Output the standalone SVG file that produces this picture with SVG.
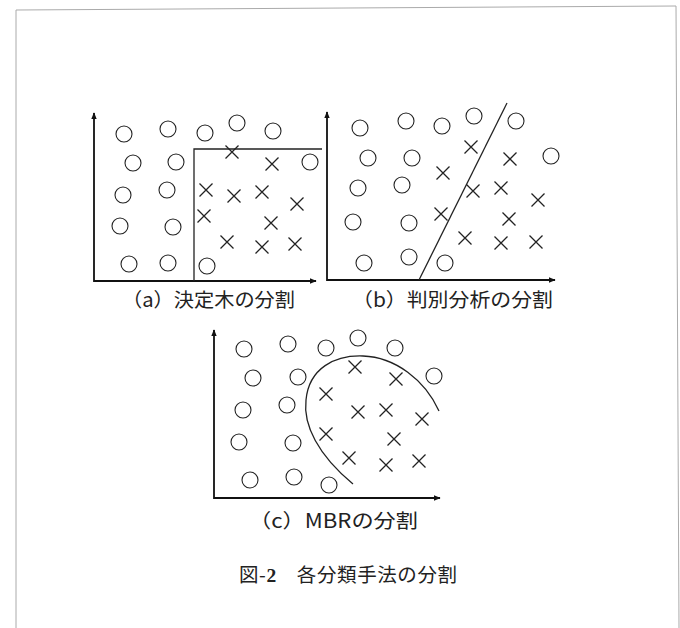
<svg xmlns="http://www.w3.org/2000/svg" width="680" height="628" viewBox="0 0 680 628">
<style>
.ax{fill:none;stroke:#111;stroke-width:1.8}
.o{fill:none;stroke:#222;stroke-width:1.1}
.x{fill:none;stroke:#222;stroke-width:1.3}
.b{fill:none;stroke:#222;stroke-width:1.3}
.t{font-family:"Noto Sans CJK JP","Noto Sans",sans-serif;font-size:19.5px;fill:#222}
.frame{fill:none;stroke:#aaa;stroke-width:1}
</style>
<defs>
<marker id="ar" viewBox="0 0 10 10" refX="9" refY="5" markerWidth="7" markerHeight="7" markerUnits="userSpaceOnUse" orient="auto-start-reverse">
<path d="M0,1 L10,5 L0,9 Z" fill="#111"/>
</marker>
<circle id="c" r="8" class="o"/>
<path id="k" d="M-6.5,-6.5 L6.5,6.5 M6.5,-6.5 L-6.5,6.5" class="x"/>
</defs>
<polyline class="frame" points="16,628 16,10 676,6 679,628"/>

<g id="panel-a">
<polyline class="ax" points="94,113 94,281 316,281" marker-start="url(#ar)" marker-end="url(#ar)"/>
<polyline class="b" points="194,281 194,149 322,149"/>
<use href="#c" x="124" y="134"/><use href="#c" x="168" y="129"/><use href="#c" x="205" y="133"/><use href="#c" x="237" y="123"/><use href="#c" x="273" y="131"/>
<use href="#c" x="133" y="163"/><use href="#c" x="176" y="162"/><use href="#c" x="310" y="162"/>
<use href="#c" x="123" y="195"/><use href="#c" x="167" y="190"/>
<use href="#c" x="120" y="226"/><use href="#c" x="173" y="227"/>
<use href="#c" x="129" y="264"/><use href="#c" x="168" y="263"/><use href="#c" x="207" y="266"/>
<use href="#k" x="232" y="152"/><use href="#k" x="272" y="164"/><use href="#k" x="206" y="190"/><use href="#k" x="234" y="196"/><use href="#k" x="262" y="192"/><use href="#k" x="297" y="204"/><use href="#k" x="204" y="216"/><use href="#k" x="271" y="223"/><use href="#k" x="227" y="242"/><use href="#k" x="262" y="247"/><use href="#k" x="295" y="244"/>
<text class="t" x="122" y="307" textLength="173" lengthAdjust="spacingAndGlyphs">（a）決定木の分割</text>
</g>

<g id="panel-b">
<polyline class="ax" points="327,112 327,280 555,280" marker-start="url(#ar)" marker-end="url(#ar)"/>
<line class="b" x1="419" y1="280" x2="507" y2="103"/>
<use href="#c" x="360" y="128"/><use href="#c" x="406" y="121"/><use href="#c" x="442" y="126"/><use href="#c" x="474" y="116"/><use href="#c" x="516" y="121"/>
<use href="#c" x="368" y="158"/><use href="#c" x="412" y="158"/><use href="#c" x="551" y="156"/>
<use href="#c" x="358" y="188"/><use href="#c" x="402" y="185"/>
<use href="#c" x="353" y="222"/><use href="#c" x="409" y="223"/>
<use href="#c" x="364" y="263"/><use href="#c" x="409" y="257"/><use href="#c" x="445" y="263"/>
<use href="#k" x="471" y="147"/><use href="#k" x="510" y="159"/><use href="#k" x="443" y="173"/><use href="#k" x="473" y="191"/><use href="#k" x="501" y="188"/><use href="#k" x="538" y="200"/><use href="#k" x="441" y="214"/><use href="#k" x="509" y="219"/><use href="#k" x="465" y="238"/><use href="#k" x="501" y="243"/><use href="#k" x="536" y="242"/>
<text class="t" x="352" y="307" textLength="201" lengthAdjust="spacingAndGlyphs">（b）判別分析の分割</text>
</g>

<g id="panel-c">
<polyline class="ax" points="214,330 214,498 440,498" marker-start="url(#ar)" marker-end="url(#ar)"/>
<path class="b" d="M353,484 C318,455 303,425 306,400 C309,368 335,355 363,356 C395,357 425,380 439,411"/>
<use href="#c" x="244" y="349"/><use href="#c" x="288" y="344"/><use href="#c" x="326" y="348"/><use href="#c" x="358" y="338"/><use href="#c" x="395" y="348"/>
<use href="#c" x="253" y="378"/><use href="#c" x="298" y="377"/><use href="#c" x="434" y="376"/>
<use href="#c" x="243" y="410"/><use href="#c" x="287" y="405"/>
<use href="#c" x="239" y="442"/><use href="#c" x="293" y="443"/>
<use href="#c" x="250" y="480"/><use href="#c" x="294" y="477"/><use href="#c" x="329" y="485"/>
<use href="#k" x="355" y="367"/><use href="#k" x="396" y="379"/><use href="#k" x="326" y="394"/><use href="#k" x="358" y="412"/><use href="#k" x="386" y="410"/><use href="#k" x="422" y="419"/><use href="#k" x="326" y="434"/><use href="#k" x="394" y="439"/><use href="#k" x="349" y="458"/><use href="#k" x="386" y="465"/><use href="#k" x="419" y="461"/>
<text class="t" x="249" y="528" textLength="169" lengthAdjust="spacingAndGlyphs">（c）MBRの分割</text>
</g>

<g id="caption">
<text class="t" x="239" y="582" textLength="218" lengthAdjust="spacing">図-<tspan font-weight="bold" font-family="Liberation Serif, serif">2</tspan>　各分類手法の分割</text>
</g>
</svg>
